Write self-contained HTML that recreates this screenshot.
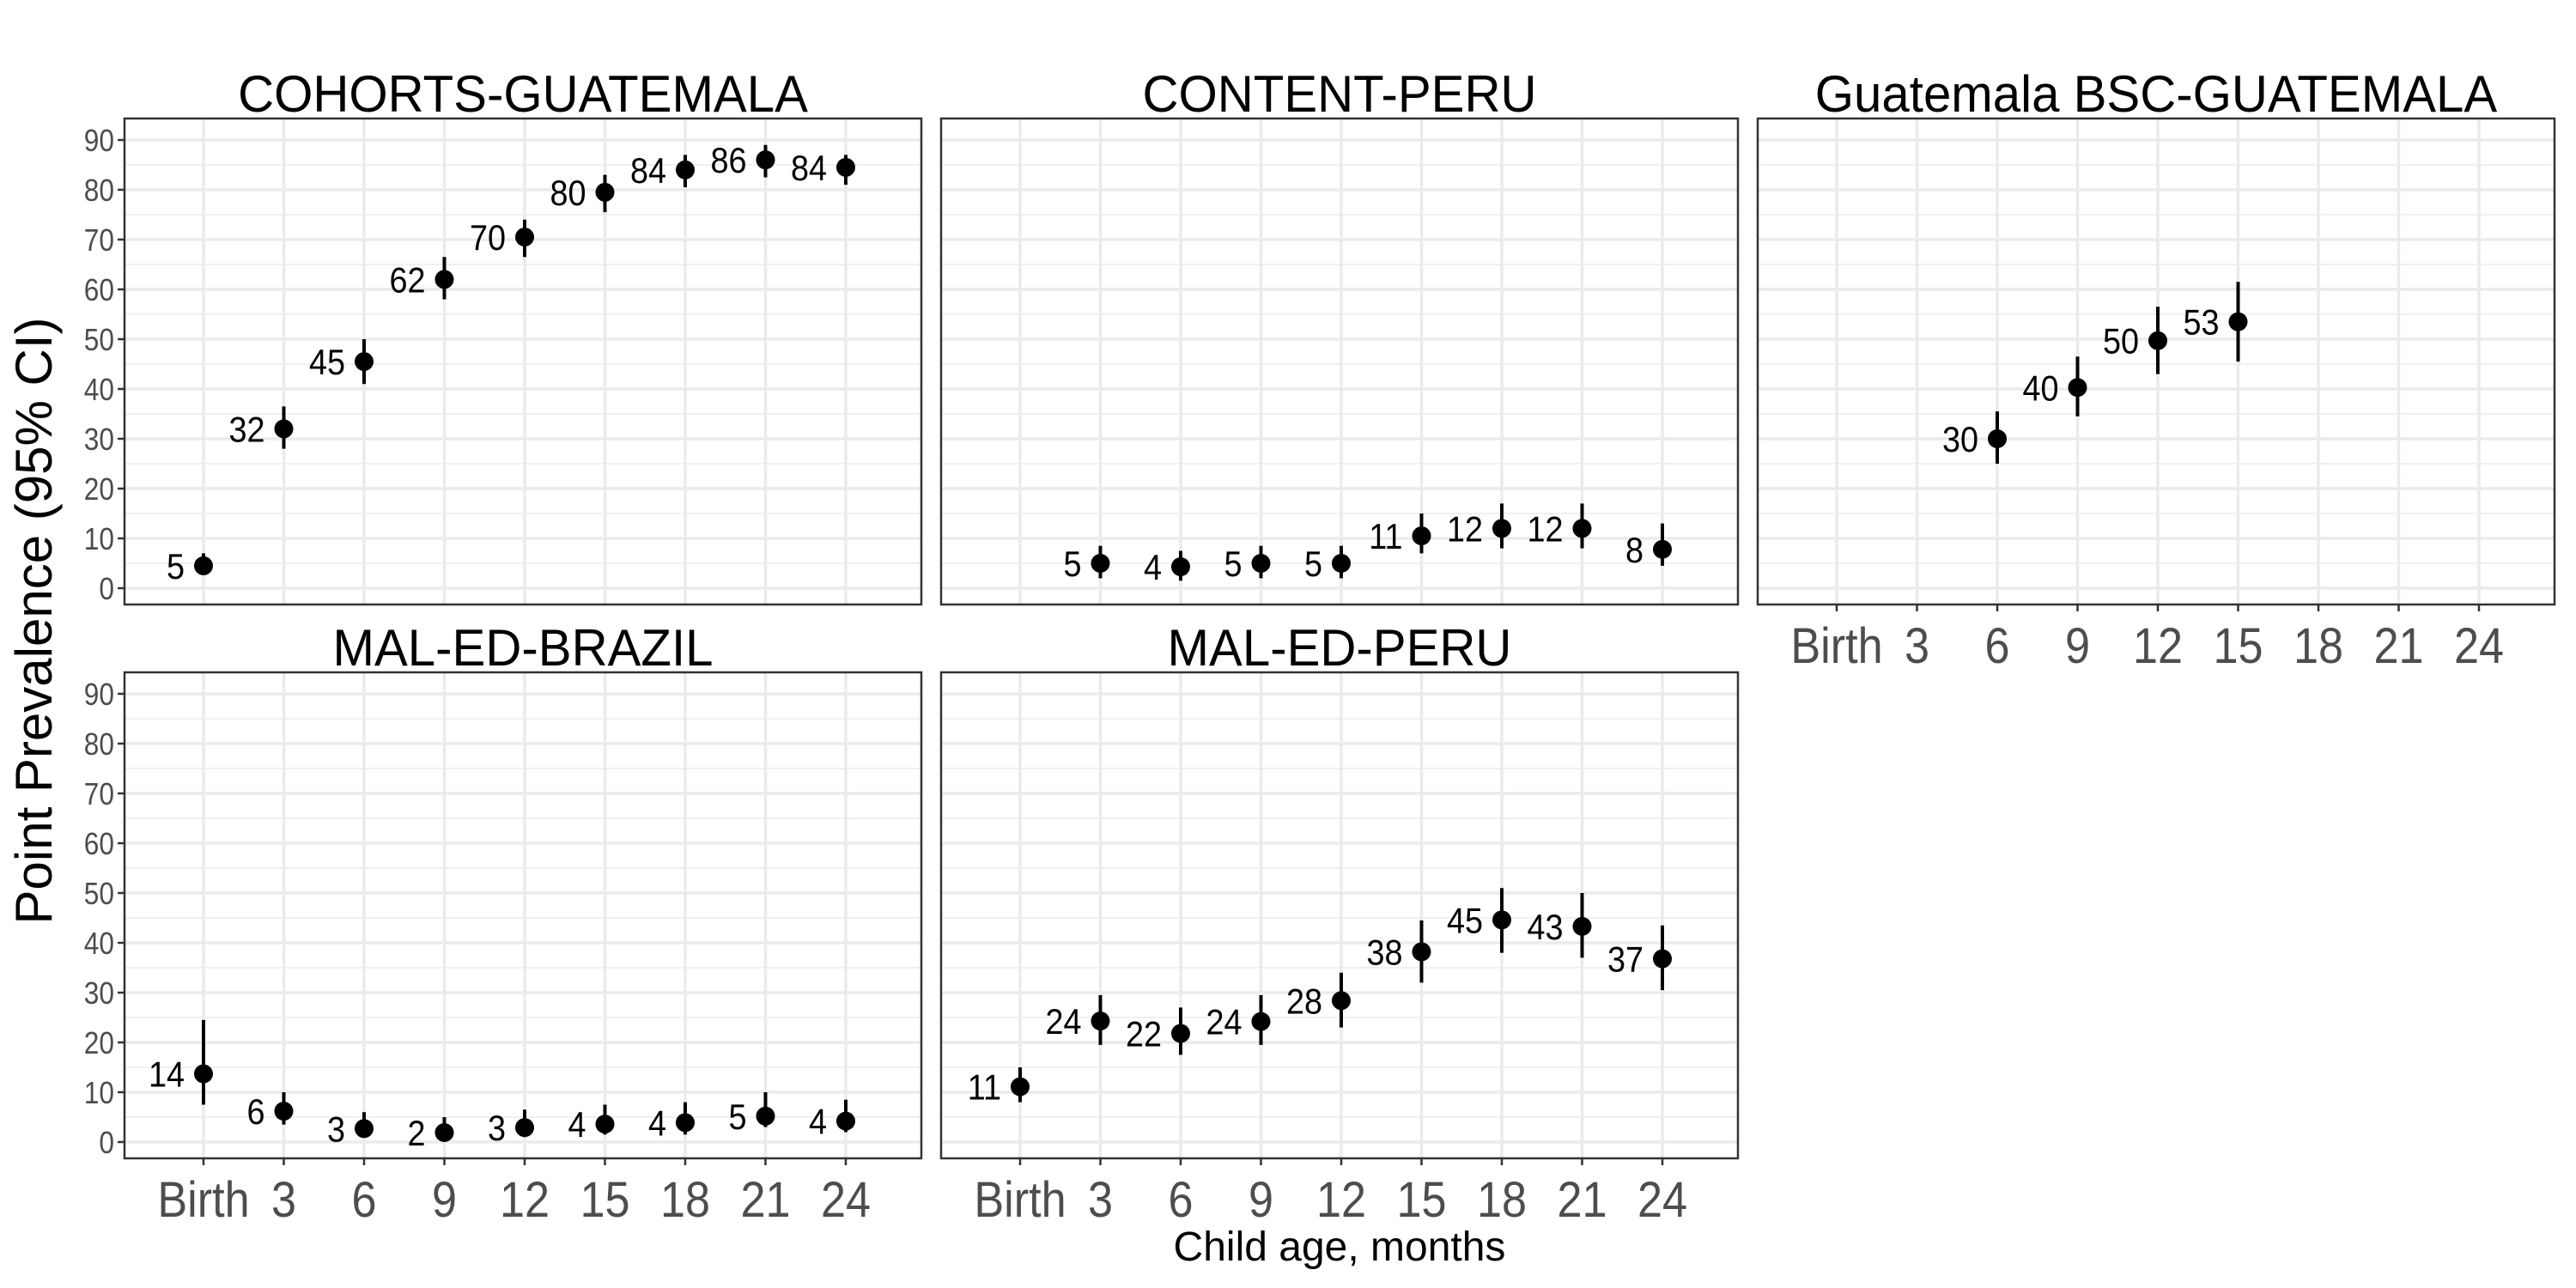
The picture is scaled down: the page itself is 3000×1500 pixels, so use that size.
<!DOCTYPE html>
<html><head><meta charset="utf-8"><style>
html,body{margin:0;padding:0;background:#fff;width:3000px;height:1500px;overflow:hidden}
text{font-family:"Liberation Sans",sans-serif}
</style></head><body>
<svg id="chart" width="3000" height="1500" xmlns="http://www.w3.org/2000/svg"></svg>
<script>
const xCategories = ["Birth","3","6","9","12","15","18","21","24"];
const yTicks = [0,10,20,30,40,50,60,70,80,90];
const panelTitles = ["COHORTS-GUATEMALA","CONTENT-PERU","Guatemala BSC-GUATEMALA","MAL-ED-BRAZIL","MAL-ED-PERU"];
const ages1 = [0,3,6,9,12,15,18,21,24];
const est1 = [4.5,32,45.5,62,70.5,79.5,84,86,84.5];
const lo1 = [3,28,41,58,66.5,75.5,80.5,82.5,81];
const hi1 = [7,36.5,50,66.5,74,83,87,89,87];
const lab1 = ["5","32","45","62","70","80","84","86","84"];
const ages2 = [3,6,9,12,15,18,21,24];
const est2 = [5,4.3,5,5,10.5,12,12,7.8];
const lo2 = [2,1.5,2,2,7,8,8,4.5];
const hi2 = [8.5,7.5,8.5,8.5,15,17,17,13];
const lab2 = ["5","4","5","5","11","12","12","8"];
const ages3 = [6,9,12,15];
const est3 = [30,40.3,49.7,53.5];
const lo3 = [25,34.5,43,45.5];
const hi3 = [35.5,46.5,56.5,61.5];
const lab3 = ["30","40","50","53"];
const ages4 = [0,3,6,9,12,15,18,21,24];
const est4 = [13.7,6.2,2.7,1.9,2.9,3.6,3.9,5.2,4.2];
const lo4 = [7.5,3.5,1,0.5,1,1.5,1.5,3,2];
const hi4 = [24.5,10,6,5,6.5,7.5,8,10,8.5];
const lab4 = ["14","6","3","2","3","4","4","5","4"];
const ages5 = [0,3,6,9,12,15,18,21,24];
const est5 = [11.1,24.3,21.8,24.2,28.4,38.2,44.6,43.3,36.8];
const lo5 = [8,19.5,17.5,19.5,23,32,38,37,30.5];
const hi5 = [15,29.5,27,29.5,34,44.5,51,50,43.5];
const lab5 = ["11","24","22","24","28","38","45","43","37"];

const NS="http://www.w3.org/2000/svg";
const svg=document.getElementById('chart');
function mk(tag,attrs,parent){const e=document.createElementNS(NS,tag);for(const k in attrs)e.setAttribute(k,attrs[k]);(parent||svg).appendChild(e);return e;}
function ctext(x,y,str,size,anchor,fill,sx,parent){
  const t=mk('text',{x:0,y:0,transform:`translate(${x},${y}) scale(${sx},1)`,'text-anchor':anchor,'font-size':size,fill:fill},parent);
  t.textContent=str;return t;
}

const panels=[
 {l:145,t:138,ages:ages1,est:est1,lo:lo1,hi:hi1,lab:lab1,yl:true,xl:false},
 {l:1096,t:138,ages:ages2,est:est2,lo:lo2,hi:hi2,lab:lab2,yl:false,xl:false},
 {l:2047,t:138,ages:ages3,est:est3,lo:lo3,hi:hi3,lab:lab3,yl:false,xl:true},
 {l:145,t:783,ages:ages4,est:est4,lo:lo4,hi:hi4,lab:lab4,yl:true,xl:true},
 {l:1096,t:783,ages:ages5,est:est5,lo:lo5,hi:hi5,lab:lab5,yl:false,xl:true}
];
const W=928,H=566;
panels.forEach((p,i)=>{
  const g=mk('g',{});
  
  
  const xs=a=>p.l+92+a*(748/24);
  const ys=v=>p.t+547-v*(522/90);
  const title=ctext(p.l+W/2,p.t-8,panelTitles[i],60,'middle','#000',0.97,g);
  
  
  mk('rect',{x:p.l,y:p.t,width:W,height:H,fill:'#fff'},g);
  for(let v=5;v<95;v+=10){mk('line',{x1:p.l,x2:p.l+W,y1:ys(v),y2:ys(v),stroke:'#ebebeb','stroke-width':1.5},g);}
  yTicks.forEach(v=>{mk('line',{x1:p.l,x2:p.l+W,y1:ys(v),y2:ys(v),stroke:'#ebebeb','stroke-width':3.5},g);});
  xCategories.forEach((c,k)=>{mk('line',{x1:xs(k*3),x2:xs(k*3),y1:p.t,y2:p.t+H,stroke:'#ebebeb','stroke-width':3.5},g);});
  mk('rect',{x:p.l,y:p.t,width:W,height:H,fill:'none',stroke:'#333','stroke-width':2.5},g);
  if(p.yl){
    yTicks.forEach(v=>{
      mk('line',{x1:p.l-8,x2:p.l,y1:ys(v),y2:ys(v),stroke:'#333','stroke-width':2.5},g);
      const t=ctext(p.l-12,ys(v)+13,String(v),36,'end','#4d4d4d',0.88,g);
      
      
    });
  }
  if(p.xl){
    xCategories.forEach((c,k)=>{
      mk('line',{x1:xs(k*3),x2:xs(k*3),y1:p.t+H,y2:p.t+H+8,stroke:'#333','stroke-width':2.5},g);
      const t=ctext(xs(k*3),p.t+H+68,c,58,'middle','#4d4d4d',0.9,g);
      
      
    });
  }
  p.ages.forEach((a,j)=>{
    const x=xs(a);
    const eb=mk('line',{x1:x,x2:x,y1:ys(p.lo[j]),y2:ys(p.hi[j]),stroke:'#000','stroke-width':4},g);
    
    
    const pt=mk('circle',{cx:x,cy:ys(p.est[j]),r:11,fill:'#000'},g);
    
    
    const lt=ctext(x-22,ys(p.est[j])+15,p.lab[j],42,'end','#000',0.9,g);
    
    
  });
});
const yt=mk('text',{x:0,y:0,transform:'translate(60,723) rotate(-90)','text-anchor':'middle','font-size':60,fill:'#000'});
yt.textContent='Point Prevalence (95% CI)';


const xt=mk('text',{x:1560,y:1468,'text-anchor':'middle','font-size':48,fill:'#000'});
xt.textContent='Child age, months';


</script>
</body></html>
